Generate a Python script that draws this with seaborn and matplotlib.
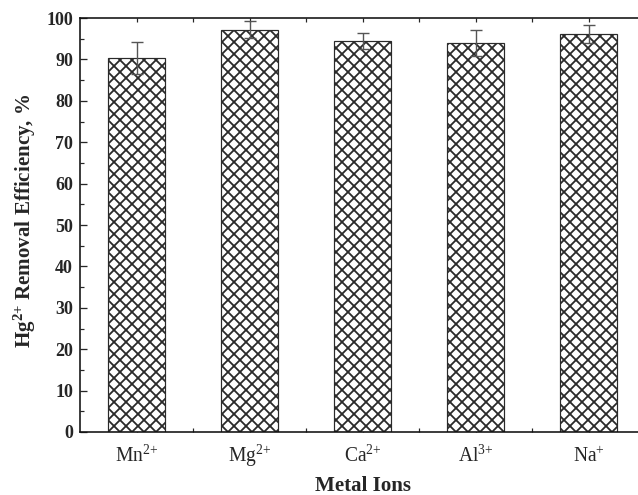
import matplotlib
matplotlib.use('Agg')
import matplotlib.pyplot as plt
import seaborn as sns
from matplotlib.ticker import MultipleLocator, FixedLocator

# データ
ions = ['Mn$^{2{+}}$', 'Mg$^{2{+}}$', 'Ca$^{2{+}}$', 'Al$^{3{+}}$', 'Na$^{{+}}$']
efficiency = [90.3, 97.2, 94.4, 94.0, 96.1]
errors = [3.9, 2.0, 2.0, 3.1, 2.2]

sns.set_style('ticks')
plt.rcParams['font.family'] = ['Liberation Serif', 'DejaVu Serif']
plt.rcParams['mathtext.fontset'] = 'custom'
plt.rcParams['mathtext.rm'] = 'Liberation Serif'
plt.rcParams['mathtext.bf'] = 'Liberation Serif:bold'
plt.rcParams['mathtext.default'] = 'regular'
plt.rcParams['hatch.linewidth'] = 1.8

# dpi=72 にしてハッチの間隔を合わせる
fig = plt.figure(figsize=(638 / 72, 495 / 72), dpi=72)
ax = fig.add_axes([80 / 638, 63 / 495, 565 / 638, 414 / 495])

sns.barplot(x=ions, y=efficiency, ax=ax, width=0.5, color='white',
            edgecolor='#2a2a2a', linewidth=1.2)
for p in ax.patches:
    p.set_hatch('xx')

ax.errorbar(range(len(ions)), efficiency, yerr=errors, fmt='none',
            ecolor='#555555', elinewidth=1.4, capsize=6, capthick=1.4)

ax.set_xlim(-0.5, len(ions) - 0.5)
ax.set_ylim(0, 100)
ax.yaxis.set_major_locator(MultipleLocator(10))
ax.yaxis.set_minor_locator(MultipleLocator(5))
ax.xaxis.set_minor_locator(FixedLocator([i + 0.5 for i in range(len(ions) - 1)]))

for s in ['left', 'bottom', 'top']:
    ax.spines[s].set_linewidth(1.6)
    ax.spines[s].set_color('#111111')
ax.spines['right'].set_visible(False)

ax.tick_params(axis='y', which='major', direction='in', length=7, width=1.3, pad=7,
               labelsize=18)
ax.tick_params(axis='y', which='minor', direction='in', length=4, width=1.2)
ax.tick_params(axis='x', which='both', direction='in', length=4, width=1.2, top=True,
               pad=30, labelsize=19.5)
for lab in ax.get_yticklabels():
    lab.set_fontweight('bold')
# ベースラインを揃える
for lab in ax.get_xticklabels():
    lab.set_verticalalignment('baseline')

ax.set_xlabel('Metal Ions', fontsize=21, fontweight='bold', labelpad=7)
ax.set_ylabel(r'Hg$^{\mathbf{2{+}}}$ Removal Efficiency, %', fontsize=21,
              fontweight='bold')
ax.yaxis.set_label_coords(-0.074, 0.51)

fig.savefig('out.png', dpi=72)
